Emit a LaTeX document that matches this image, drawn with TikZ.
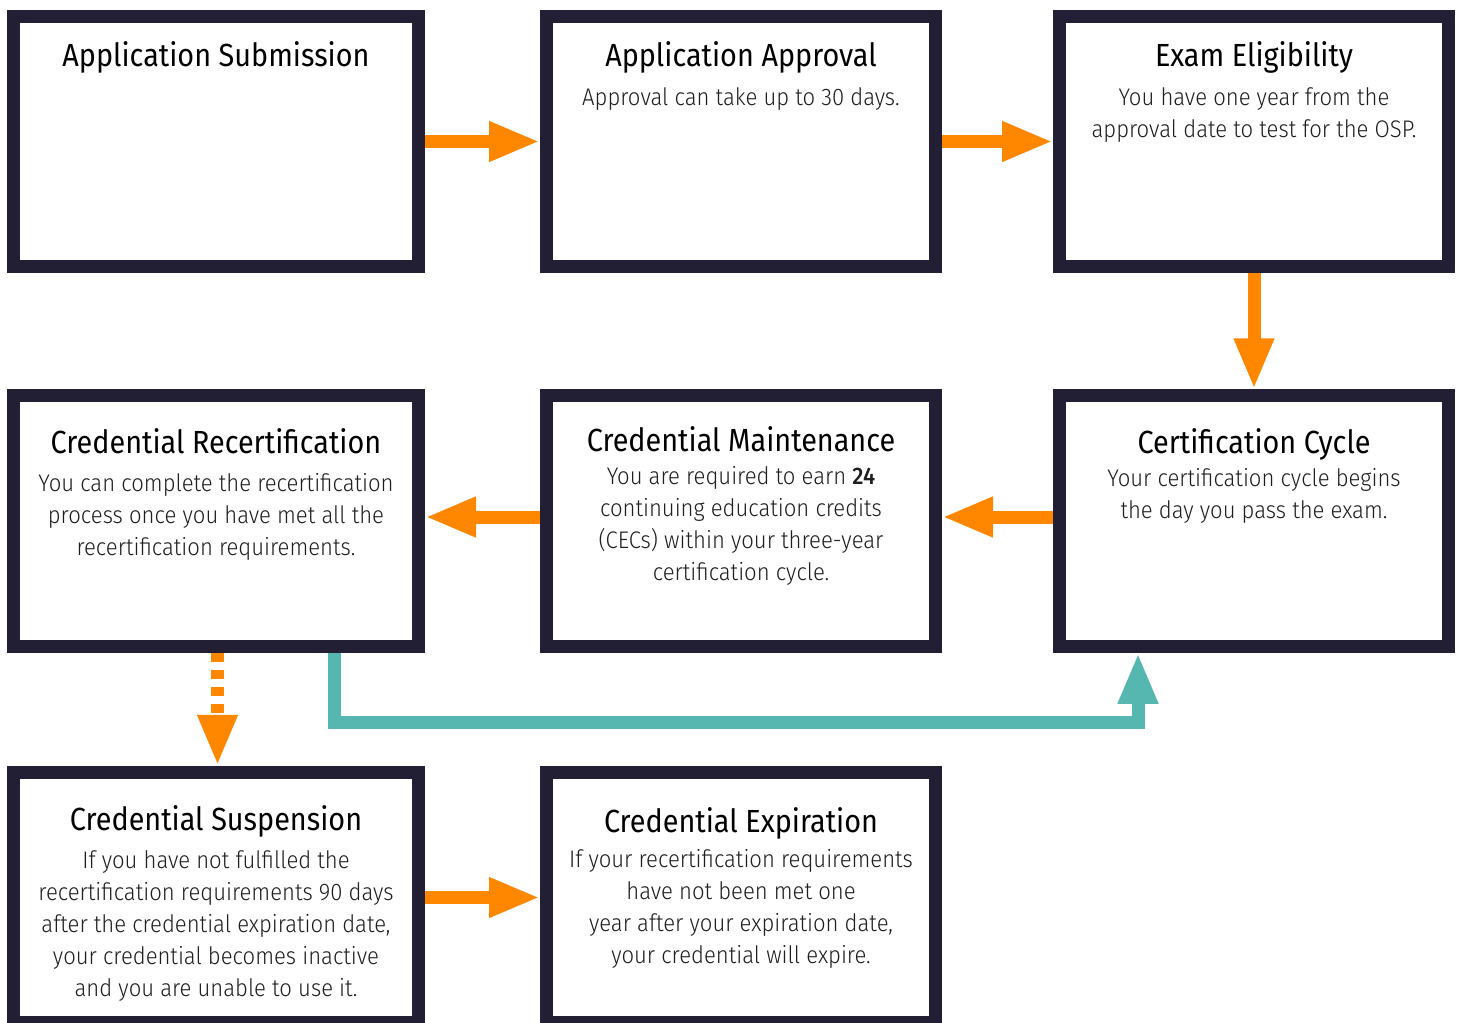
\documentclass[tikz,border=0pt]{standalone}
\usepackage{fontspec}
\newfontfamily\headfont{Fira Sans}[FakeStretch=0.9]
\newfontfamily\bodyfont{Fira Sans Light}[FakeStretch=0.92,BoldFont={Fira Sans Medium}]
\usetikzlibrary{arrows.meta}

\definecolor{frame}{HTML}{221F35}
\definecolor{flowor}{HTML}{FF8700}
\definecolor{flowtl}{HTML}{56B7B0}
\definecolor{inkgray}{HTML}{1E1E1E}

\begin{document}
\begin{tikzpicture}[x=1pt,y=-1pt,
		box/.style={rectangle,draw=frame,fill=white,line width=13pt,minimum width=389pt,minimum height=250.5pt,inner sep=0pt},
		wide box/.style={box,minimum width=405pt},
		head/.style={anchor=base,inner sep=0pt,font=\headfont\fontsize{32}{38}\selectfont},
		body/.style={anchor=base,inner sep=0pt,align=center,text=inkgray,font=\bodyfont\fontsize{24}{32}\selectfont},
		flow/.style={draw=flowor,line width=13pt,-{Triangle[length=51pt,width=37pt]}},
		back/.style={flow,draw=flowtl}]

		\path[fill=white,use as bounding box] (0,0) rectangle (1460,1023);

		% boxes
		\node[wide box] (sub) at (216,141.5) {};
		\node[box] (app) at (741,141.5) {};
		\node[box] (exam) at (1254,141.5) {};
		\node[wide box] (recert) at (216,521) {};
		\node[box] (maint) at (741,521) {};
		\node[box] (cycle) at (1254,521) {};
		\node[wide box] (susp) at (216,897.5) {};
		\node[box] (expir) at (741,897.5) {};

		% texts (body base = its last line)
		\node[head] (sub-t) at ([yshift=-57pt]sub.north) {Application Submission};

		\node[head] (app-t) at ([yshift=-57pt]app.north) {Application Approval};
		\node[body] (app-b) at ([yshift=-39pt]app-t.base) {Approval can take up to 30 days.};

		\node[head] (exam-t) at ([yshift=-57pt]exam.north) {Exam Eligibility};
		\node[body] (exam-b) at ([yshift=-71pt]exam-t.base) {You have one year from the\\approval date to test for the OSP.};

		\node[head] (cycle-t) at ([yshift=-64pt]cycle.north) {Certification Cycle};
		\node[body] (cycle-b) at ([yshift=-65pt]cycle-t.base) {Your certification cycle begins\\the day you pass the exam.};

		\node[head] (maint-t) at ([yshift=-62pt]maint.north) {Credential Maintenance};
		\node[body] (maint-b) at ([yshift=-129pt]maint-t.base) {You are required to earn \textbf{24}\\continuing education credits\\(CECs) within your three-year\\certification cycle.};

		\node[head] (recert-t) at ([yshift=-64pt]recert.north) {Credential Recertification};
		\node[body] (recert-b) at ([yshift=-102pt]recert-t.base) {You can complete the recertification\\process once you have met all the\\recertification requirements.};

		\node[head] (susp-t) at ([yshift=-65pt]susp.north) {Credential Suspension};
		\node[body] (susp-b) at ([yshift=-166pt]susp-t.base) {If you have not fulfilled the\\recertification requirements 90 days\\after the credential expiration date,\\your credential becomes inactive\\and you are unable to use it.};

		\node[head] (expir-t) at ([yshift=-67pt]expir.north) {Credential Expiration};
		\node[body] (expir-b) at ([yshift=-131pt]expir-t.base) {If your recertification requirements\\have not been met one\\year after your expiration date,\\your credential will expire.};

		% connectors
		\draw[flow] (sub.east) -- (app.west);
		\draw[flow] (app.east) -- (exam.west);
		\draw[flow] (exam.south) -- (cycle.north);
		\draw[flow] ([yshift=4pt]cycle.west) -- ([yshift=4pt]maint.east);
		\draw[flow] ([yshift=4pt]maint.west) -- ([yshift=4pt]recert.east);
		\draw[flow,dash pattern=on 9pt off 8pt] ([xshift=1.5pt]recert.south) -- ([xshift=1.5pt]susp.north);
		\draw[back] ([xshift=118.5pt]recert.south) -- ++(0,70) -| ([xshift=-116pt]cycle.south);
		\draw[flow] (susp.east) -- (expir.west);
\end{tikzpicture}
\end{document}
